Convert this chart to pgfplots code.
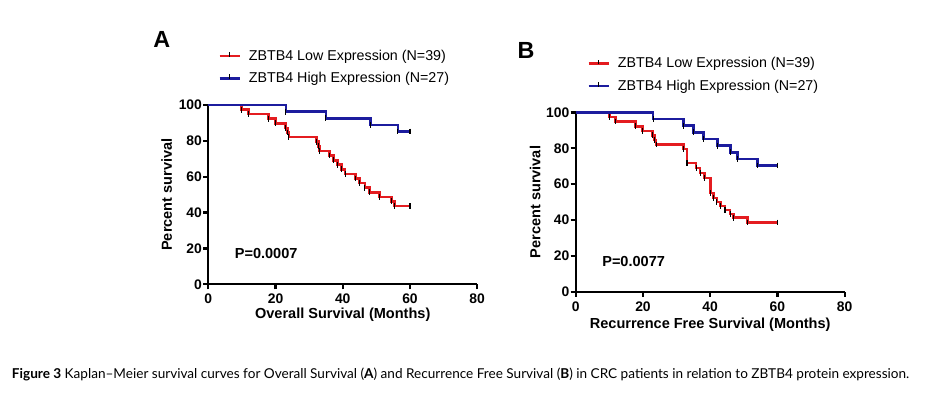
\documentclass[border=0pt]{standalone}
\usepackage{pgfplots}
\pgfplotsset{compat=1.18}
\usepackage{pgfplotstable}
\usepackage{graphicx}
\usepackage{fontspec}
\setmainfont{Liberation Sans}
\newfontfamily\capfont{Lato}
\definecolor{kmred}{RGB}{228,28,32}
\definecolor{kmblue}{RGB}{28,28,158}

\pgfplotstableread{
x y
0 100
9.9 97.4
11.9 94.9
17.9 92.3
19.9 89.7
22.9 87.2
23.5 84.6
24.0 82.1
32.2 79.5
32.7 76.9
33.1 74.4
36.0 71.8
37.2 69.2
38.4 66.7
39.7 64.1
40.7 61.5
43.7 59.0
44.9 56.4
46.6 53.8
47.9 51.3
50.9 48.7
54.5 46.2
55.3 43.6
60.0 43.6
}\lowA

\pgfplotstableread{
x y
0 100
23.1 96.3
35.0 92.6
48.2 88.9
56.4 85.2
60.0 85.2
}\highA

\pgfplotstableread{
x y
0 100
10.0 97.4
11.8 94.9
17.8 92.3
19.8 89.7
22.9 87.2
23.5 84.6
23.9 82.1
32.1 79.5
33.1 71.8
35.8 69.0
37.0 66.2
38.4 63.4
40.0 55.0
41.0 52.2
42.0 50.0
43.0 47.8
44.4 45.6
45.9 43.4
46.9 41.3
51.0 38.6
60.0 38.6
}\lowB

\pgfplotstableread{
x y
0 100
23.0 96.3
32.0 92.6
35.0 88.9
38.0 85.2
42.1 81.5
46.1 77.8
48.1 74.1
54.0 70.4
60.0 70.4
}\highB

\pgfplotsset{
  kmaxis/.style={
    width=201.7pt, height=134.5pt, scale only axis,
    xmin=0, xmax=80, ymin=0, ymax=100,
    xtick={0,20,40,60,80}, ytick={0,20,40,60,80,100},
    axis lines*=left,
    axis line style={line width=1.7pt, black},
    every tick/.style={line width=1.7pt, black},
    major tick length=3.75pt, tick align=outside,
    ticklabel style={font=\fontsize{10.4}{11}\selectfont\bfseries},
    yticklabel style={xshift=2.5pt},
    /pgf/number format/assume math mode=true,
    label style={font=\fontsize{10.9}{12}\selectfont\bfseries},
    ylabel={Percent survival},
    clip=false,
    legend cell align=left,
    legend style={draw=none, fill=none, font=\fontsize{10.7}{12}\selectfont,
      row sep=3.5pt, column sep=4pt, inner sep=0pt},
    legend image code/.code={
      \draw[##1,line width=2pt] (0pt,0pt) -- (15pt,0pt);
      \draw[black,line width=0.8pt] (7.5pt,-0.6pt) -- (7.5pt,3pt);
    },
  },
  kmline/.style={const plot, line width=2pt, no marks},
  kmmarks/.style={only marks, mark=|, mark size=2.2pt,
    mark options={black, line width=0.8pt}, forget plot,
    skip coords between index={0}{1}},
}

\begin{document}
\begin{tikzpicture}
\path[use as bounding box] (0pt,0pt) rectangle (708pt,297pt);

\begin{axis}[kmaxis, at={(156.2pt,83.8pt)}, anchor=south west,
  xlabel={Overall Survival (Months)},
  xlabel style={at={(axis description cs:0.5,-0.171)}, anchor=center},
  ylabel style={at={(axis description cs:-0.155,0.5)}, anchor=center},
  legend style={at={(axis description cs:0.036,1.21)}, anchor=west}]
\addplot[kmline, kmred] table[x=x,y=y] {\lowA};
\addlegendentry{ZBTB4 Low Expression (N=39)}
\addplot[kmline, kmblue] table[x=x,y=y] {\highA};
\addlegendentry{ZBTB4 High Expression (N=27)}
\addplot[kmmarks] table[x=x,y=y] {\lowA};
\addplot[kmmarks] table[x=x,y=y] {\highA};
\node[anchor=west, font=\fontsize{10.9}{12}\selectfont\bfseries] at (axis cs:6.5,17.3) {P=0.0007};
\end{axis}

\begin{axis}[kmaxis, at={(431.8pt,78.2pt)}, anchor=south west,
  xlabel={Recurrence Free Survival (Months)},
  xlabel style={at={(axis description cs:0.5,-0.186)}, anchor=center},
  ylabel style={at={(axis description cs:-0.151,0.5)}, anchor=center},
  legend style={at={(axis description cs:0.042,1.21)}, anchor=west}]
\addplot[kmline, kmred] table[x=x,y=y] {\lowB};
\addlegendentry{ZBTB4 Low Expression (N=39)}
\addplot[kmline, kmblue] table[x=x,y=y] {\highB};
\addlegendentry{ZBTB4 High Expression (N=27)}
\addplot[kmmarks] table[x=x,y=y] {\lowB};
\addplot[kmmarks] table[x=x,y=y] {\highB};
\node[anchor=west, font=\fontsize{10.9}{12}\selectfont\bfseries] at (axis cs:6.5,16.7) {P=0.0077};
\end{axis}

\node[anchor=base west, inner sep=0pt, font=\fontsize{17.5}{19}\selectfont\bfseries] at (114.75pt,261pt) {A};
\node[anchor=base west, inner sep=0pt, font=\fontsize{17.5}{19}\selectfont\bfseries] at (388pt,253.3pt) {B};

\node[anchor=base west, inner sep=0pt] at (8.8pt,13.3pt)
  {\resizebox{673pt}{!}{\capfont\textbf{Figure 3} Kaplan–Meier survival curves for Overall Survival (\textbf{A}) and Recurrence Free Survival (\textbf{B}) in CRC patients in relation to ZBTB4 protein expression.}};
\end{tikzpicture}
\end{document}
